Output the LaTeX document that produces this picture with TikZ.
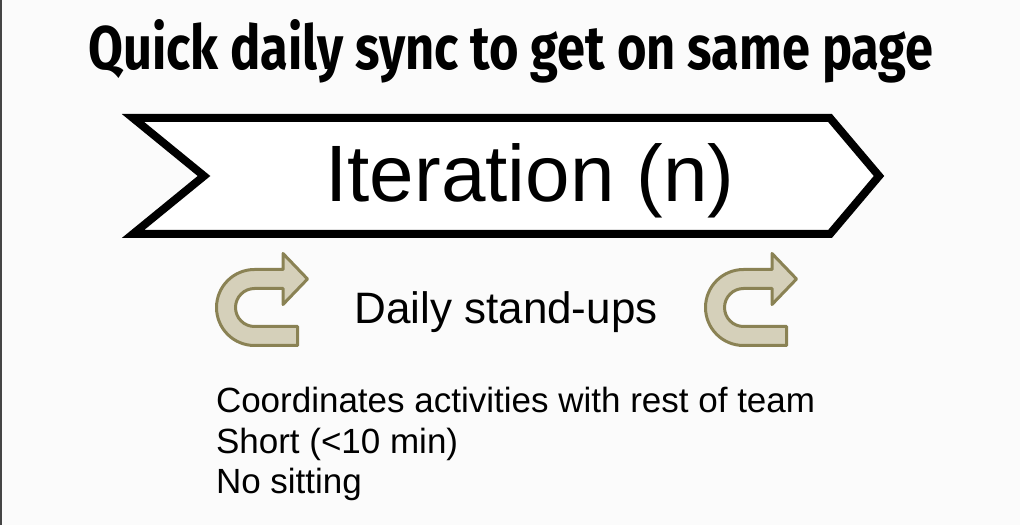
\documentclass[tikz,border=0pt]{standalone}
\usepackage{fontspec}
\setmainfont{Liberation Sans}
\newfontfamily\handfont{Fira Sans}
\definecolor{pagebg}{HTML}{FBFBFB}
\definecolor{edgegray}{HTML}{454545}
\definecolor{uturnfill}{HTML}{D5D0BA}
\definecolor{uturnline}{HTML}{8A8254}
\begin{document}
\begin{tikzpicture}[x=1pt,y=1pt,line join=miter]
	\tikzset{every node/.style={inner sep=0pt,outer sep=0pt},
		uturn/.style={fill=uturnfill,draw=uturnline,line width=3pt,line join=round},
		banner/.style={draw=black,fill=white,line width=8pt,line join=miter},
		item/.style={anchor=base west,font=\fontsize{35}{42}\selectfont}}
	\useasboundingbox (0,0) rectangle (1020,525);
	\fill[pagebg] (0,0) rectangle (1020,525);
	\draw[edgegray,line width=2pt] (1,0)--(1,525);
	% title
	\node[anchor=base] (title) at (511,455) {\resizebox{845pt}{50pt}{\handfont\bfseries Quick daily sync to get on same page}};
	% iteration banner
	\draw[banner] (133,407)--(830,407)--(879,349)--(830,291)--(133,291)--(204,349)--cycle;
	\node[anchor=base,font=\fontsize{80}{96}\selectfont] (iter) at (530,323) {Iteration (n)};
	% stand-ups
	\foreach \cx in {254.5,743.5}
	\draw[uturn,shift={(\cx,217.5)}] (43,-38)--(0,-38) arc[start angle=-90,end angle=-270,radius=38]--(28.5,38)--(28.5,54)--(53,28.5)--(28.5,3)--(28.5,19)--(0,19) arc[start angle=90,end angle=270,radius=19]--(43,-19)--cycle;
	\node[anchor=base,font=\fontsize{44}{53}\selectfont] (standup) at (506,201) {Daily stand-ups};
	\node[item] (coord) at (216,112) {Coordinates activities with rest of team};
	\node[item] (short) at (216,72) {Short (<10 min)};
	\node[item] (nosit) at (216,32) {No sitting};
\end{tikzpicture}
\end{document}
